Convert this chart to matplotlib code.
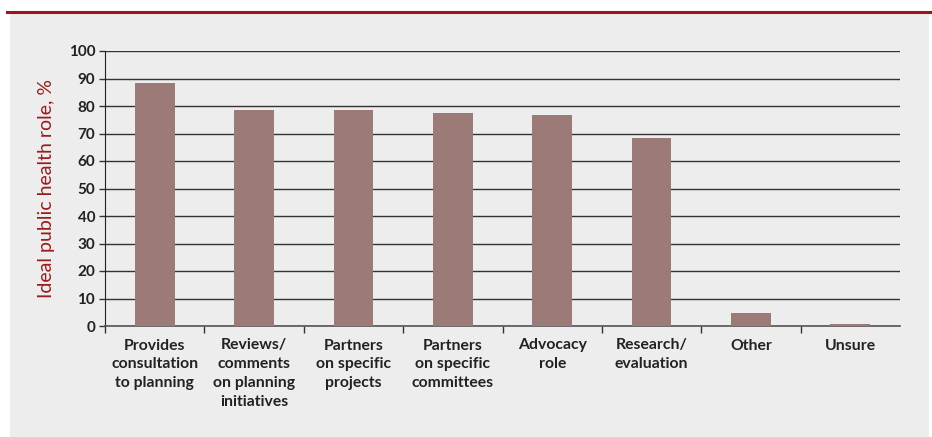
import matplotlib.pyplot as plt
from matplotlib.patches import Rectangle
from matplotlib.lines import Line2D

roles = ["Provides\nconsultation\nto planning", "Reviews/\ncomments\non planning\ninitiatives",
         "Partners\non specific\nprojects", "Partners\non specific\ncommittees",
         "Advocacy\nrole", "Research/\nevaluation", "Other", "Unsure"]
percent = [88.5, 78.5, 78.5, 77.5, 76.7, 68.5, 4.7, 0.8]
yticks = list(range(0, 101, 10))

plt.rcParams['font.family'] = ['Lato', 'DejaVu Sans']

fig = plt.figure(figsize=(9.32, 4.37), dpi=100)
fig.patch.set_facecolor('white')

# grey panel and red rule on top
fig.add_artist(Rectangle((10/932, 0), 919/932, 423/437, transform=fig.transFigure,
                         facecolor='#ededed', edgecolor='none', zorder=0))
fig.add_artist(Line2D([7/932, 1], [425/437, 425/437], transform=fig.transFigure,
                      color='#a01418', linewidth=2.2))

ax = fig.add_axes([105/932, 111/437, 795/932, 275/437])
ax.set_facecolor('none')

x = list(range(len(roles)))
ax.bar(x, percent, width=0.4, color='#9b7a77', zorder=3)

ax.set_xlim(-0.5, len(roles) - 0.5)
ax.set_ylim(0, 100)
ax.set_yticks(yticks)
ax.set_yticklabels([str(v) for v in yticks], fontsize=11, fontweight='bold', color='#222222')
ax.yaxis.grid(True, color='#333333', linewidth=1.0, zorder=1)

ax.set_xticks([i + 0.5 for i in range(-1, len(roles) - 1)], minor=False)
ax.set_xticklabels([])
ax.set_xticks(x, minor=True)
ax.set_xticklabels(roles, minor=True, fontsize=11.3, fontweight='bold', color='#222222',
                   linespacing=1.45, va='top')
ax.tick_params(axis='x', which='minor', length=0, pad=9)
ax.tick_params(axis='x', which='major', length=5, color='#333333', width=1)
ax.tick_params(axis='y', length=4, color='#333333', width=1, pad=3)

for side in ['top', 'right']:
    ax.spines[side].set_visible(False)
ax.spines['left'].set_color('#222222')
ax.spines['bottom'].set_color('#555555')
ax.spines['bottom'].set_linewidth(1.2)

ax.set_ylabel("Ideal public health role, %", fontsize=14, color='#9b1b1b', labelpad=10)

fig.savefig("out.png", dpi=100)
